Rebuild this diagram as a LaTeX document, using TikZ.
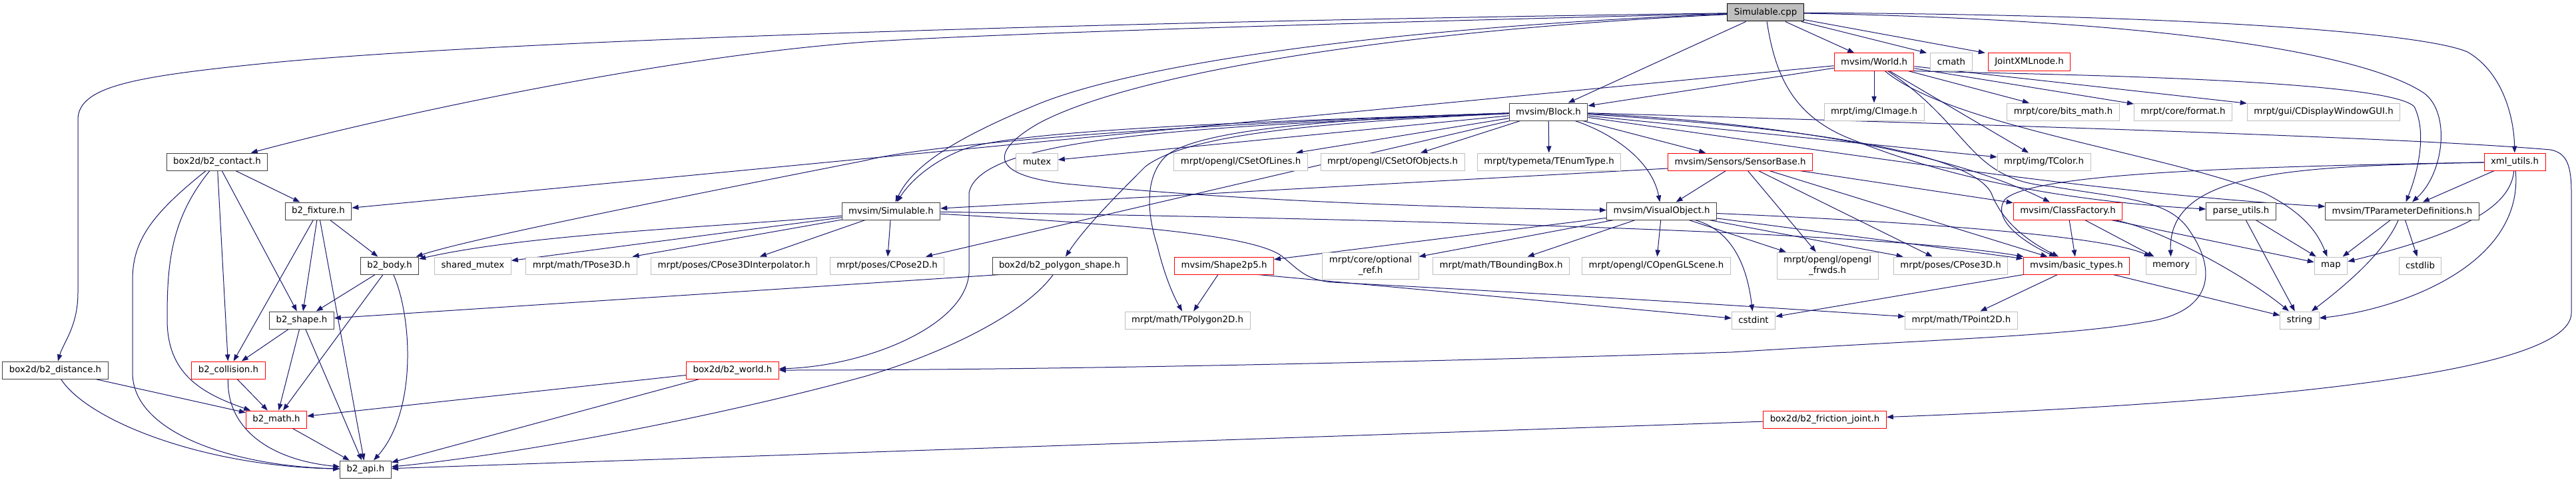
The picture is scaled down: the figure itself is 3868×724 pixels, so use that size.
\documentclass[tikz,border=0pt]{standalone}
\usepackage{fontspec}
\setmainfont{DejaVu Sans}
\usetikzlibrary{arrows.meta}
\definecolor{edgec}{HTML}{191970}
\definecolor{grayb}{HTML}{BFBFBF}
\definecolor{blackb}{HTML}{404040}
\pgfdeclarelayer{edgelayer}
\pgfsetlayers{edgelayer,main}
\begin{document}
\begin{tikzpicture}[x=0.75pt,y=-0.75pt,
  nd/.style={draw, line width=0.75pt, inner xsep=7.5pt, inner ysep=0pt, minimum height=19.5pt, font=\fontsize{10}{11.5}\selectfont, fill=white, align=center, text=black},
  bn/.style={nd, draw=blackb},
  rn/.style={nd, draw=red},
  gn/.style={nd, draw=grayb},
  e/.style={draw=edgec, line width=0.75pt, -{Triangle[length=7.5pt,width=5.5pt]}}]
\useasboundingbox (0,0) rectangle (3868,724);
% rank 0-2
\node[nd, draw=black, fill=grayb] (cpp) at (2651,19) {Simulable.cpp};
\node[rn] (world) at (2814,93) {mvsim/World.h};
\node[gn] (cmath) at (2930,93) {cmath};
\node[rn] (joint) at (3047,93) {JointXMLnode.h};
\node[bn] (block) at (2325,168) {mvsim/Block.h};
\node[gn] (cimage) at (2814,168) {mrpt/img/CImage.h};
\node[gn] (bitsmath) at (3098,168) {mrpt/core/bits\_math.h};
\node[gn] (format) at (3278,168) {mrpt/core/format.h};
\node[gn] (cdisp) at (3489,168) {mrpt/gui/CDisplayWindowGUI.h};
% rank 3
\node[bn] (contact) at (326,243) {box2d/b2\_contact.h};
\node[gn] (mutex) at (1557,243) {mutex};
\node[gn] (cslines) at (1863,243) {mrpt/opengl/CSetOfLines.h};
\node[gn] (csobjs) at (2091,243) {mrpt/opengl/CSetOfObjects.h};
\node[gn] (tenum) at (2326,243) {mrpt/typemeta/TEnumType.h};
\node[rn] (sensor) at (2613,243) {mvsim/Sensors/SensorBase.h};
\node[gn] (tcolor) at (3069,243) {mrpt/img/TColor.h};
\node[rn] (xmlu) at (3776,243) {xml\_utils.h};
% rank 4
\node[bn] (fixture) at (478,317) {b2\_fixture.h};
\node[bn] (simh) at (1338,317) {mvsim/Simulable.h};
\node[bn] (visobj) at (2495,317) {mvsim/VisualObject.h};
\node[rn] (classf) at (3105,317) {mvsim/ClassFactory.h};
\node[bn] (parseu) at (3365,317) {parse\_utils.h};
\node[bn] (tparam) at (3607,317) {mvsim/TParameterDefinitions.h};
% rank 5
\node[bn] (body) at (585,399) {b2\_body.h};
\node[gn] (shmutex) at (710,399) {shared\_mutex};
\node[gn] (tpose3d) at (873,399) {mrpt/math/TPose3D.h};
\node[gn] (interp) at (1102,399) {mrpt/poses/CPose3DInterpolator.h};
\node[gn] (cpose2d) at (1332,399) {mrpt/poses/CPose2D.h};
\node[bn] (polyshape) at (1591,399) {box2d/b2\_polygon\_shape.h};
\node[rn] (shape2p5) at (1838,399) {mvsim/Shape2p5.h};
\node[gn, minimum height=30pt] (optref) at (2058,399) {mrpt/core/optional\\\_ref.h};
\node[gn] (bbox) at (2254,399) {mrpt/math/TBoundingBox.h};
\node[gn] (glscene) at (2487,399) {mrpt/opengl/COpenGLScene.h};
\node[gn, minimum height=30pt] (frwds) at (2744,399) {mrpt/opengl/opengl\\\_frwds.h};
\node[gn] (cpose3d) at (2929,399) {mrpt/poses/CPose3D.h};
\node[rn] (basic) at (3118,399) {mvsim/basic\_types.h};
\node[gn] (memory) at (3260,399) {memory};
\node[gn] (map) at (3500,399) {map};
\node[gn] (cstdlib) at (3634,399) {cstdlib};
% rank 6
\node[bn] (shape) at (453,481) {b2\_shape.h};
\node[gn] (tpoly) at (1783,481) {mrpt/math/TPolygon2D.h};
\node[gn] (cstdint) at (2633,481) {cstdint};
\node[gn] (tpoint2d) at (2945,481) {mrpt/math/TPoint2D.h};
\node[gn] (string) at (3453,481) {string};
% rank 7-9
\node[bn] (distance) at (83,556) {box2d/b2\_distance.h};
\node[rn] (collision) at (343,556) {b2\_collision.h};
\node[rn] (b2world) at (1100,556) {box2d/b2\_world.h};
\node[rn] (math) at (415,630) {b2\_math.h};
\node[rn] (friction) at (2740,630) {box2d/b2\_friction\_joint.h};
\node[bn] (api) at (549,705) {b2\_api.h};

\begin{pgfonlayer}{edgelayer}
\fill[white] (0,0) rectangle (3868,724);
% Simulable.cpp
\draw[e] (cpp) .. controls (1500,35) and (700,65) .. (400,95) .. controls (200,115) and (117,130) .. (117,180) -- (117,440) .. controls (117,490) and (95,515) .. (distance);
\draw[e] (cpp) .. controls (2000,35) and (1500,50) .. (1300,63) .. controls (1000,85) and (600,170) .. (contact);
\draw[e] (cpp) .. controls (2100,40) and (1700,95) .. (1550,160) .. controls (1430,210) and (1370,250) .. (simh);
\draw[e] (cpp) .. controls (2100,45) and (1700,110) .. (1560,185) .. controls (1490,225) and (1480,262) .. (1600,276) .. controls (1900,305) and (2200,312) .. (visobj);
\draw[e] (cpp) -- (block);
\draw[e] (cpp) -- (world);
\draw[e] (cpp) -- ([xshift=-4pt]cmath.north west);
\draw[e] (cpp) -- ([xshift=-3pt]joint.north west);
\draw[e] (cpp) .. controls (3300,22) and (3640,50) .. (3705,78) .. controls (3760,110) and (3775,180) .. (xmlu);
\draw[e] (cpp) .. controls (3250,30) and (3550,80) .. (3640,140) .. controls (3680,170) and (3670,260) .. (tparam);
\draw[e] (cpp) .. controls (2665,110) and (2690,170) .. (2770,205) .. controls (2950,280) and (3150,305) .. (parseu);
% World.h
\draw[e] (world) -- (block);
\draw[e] (world) -- (fixture);
\draw[e] (world) -- (cimage);
\draw[e] (world) -- (bitsmath);
\draw[e] (world) -- (format);
\draw[e] (world) -- (cdisp);
\draw[e] (world) -- (tcolor);
\draw[e] ([xshift=-3pt]world.south east) .. controls (3000,111) and (3580,116) .. (3625,160) .. controls (3645,200) and (3630,260) .. (tparam);
\draw[e] (world) .. controls (2930,190) and (3250,230) .. (3400,290) .. controls (3460,320) and (3480,350) .. (map);
\draw[e] (world) .. controls (2960,190) and (2955,270) .. (3080,280) .. controls (3200,300) and (3260,300) .. (3290,350) .. controls (3330,410) and (3320,470) .. (3220,484) .. controls (3100,505) and (2900,510) .. (2600,529) .. controls (2000,548) and (1500,556) .. (b2world);
% Block.h
\draw[e] (block) -- (cslines);
\draw[e] (block) -- (csobjs);
\draw[e] (block) -- (tenum);
\draw[e] (block) -- (sensor);
\draw[e] (block) .. controls (2420,200) and (2480,240) .. (visobj);
\draw[e] (block) -- (mutex);
\draw[e] (block) .. controls (1900,182) and (1520,195) .. (1445,225) .. controls (1395,245) and (1365,275) .. (simh);
\draw[e] (block) .. controls (1800,185) and (1400,215) .. (1300,241) .. controls (1000,300) and (700,360) .. (body);
\draw[e] (block) .. controls (1800,190) and (1470,205) .. (1455,290) -- (1455,410) .. controls (1450,490) and (1300,550) .. (b2world);
\draw[e] (block) .. controls (1950,185) and (1780,205) .. (1720,250) .. controls (1680,290) and (1630,340) .. (polyshape);
\draw[e] (block) .. controls (1950,180) and (1790,200) .. (1750,235) .. controls (1715,270) and (1725,330) .. (1738,370) .. controls (1750,420) and (1765,450) .. (tpoly);
\draw[e] (block) -- (cpose2d);
\draw[e] (block) -- (tcolor);
\draw[e] (block) .. controls (2600,180) and (2900,215) .. (classf);
\draw[e] (block) .. controls (2600,185) and (2950,215) .. (2990,290) .. controls (3005,330) and (3040,360) .. (basic);
\draw[e] (block) .. controls (2800,235) and (3150,290) .. (tparam);
\draw[e] (block) .. controls (2900,185) and (3600,205) .. (3830,225) .. controls (3855,230) and (3861,250) .. (3861,290) -- (3861,470) .. controls (3861,560) and (3400,605) .. (friction);
% SensorBase.h
\draw[e] (sensor) -- (visobj);
\draw[e] ([yshift=-7.5pt]sensor.west) -- ([yshift=3pt]simh.east);
\draw[e] (sensor) -- (classf);
\draw[e] (sensor) -- (frwds);
\draw[e] (sensor) -- (cpose3d);
\draw[e] (sensor) -- (basic);
% Simulable.h
\draw[e] (simh) .. controls (1100,340) and (800,350) .. (body);
\draw[e] (simh) -- (shmutex);
\draw[e] (simh) -- (tpose3d);
\draw[e] (simh) -- (interp);
\draw[e] (simh) -- (cpose2d);
\draw[e] (simh) .. controls (2000,328) and (2800,345) .. (basic);
\draw[e] (simh) .. controls (1650,335) and (1880,350) .. (1925,385) .. controls (1950,405) and (1960,420) .. (2000,424) .. controls (2400,445) and (2700,465) .. (tpoint2d);
% VisualObject.h
\draw[e] (visobj) -- (shape2p5);
\draw[e] (visobj) -- (optref);
\draw[e] (visobj) -- (bbox);
\draw[e] (visobj) -- (glscene);
\draw[e] (visobj) -- (frwds);
\draw[e] (visobj) -- (cpose3d);
\draw[e] (visobj) -- (basic);
\draw[e] (visobj) .. controls (2800,330) and (3150,350) .. (memory);
\draw[e] (visobj) .. controls (2580,340) and (2620,370) .. (cstdint);
% Shape2p5.h
\draw[e] (shape2p5) -- (tpoly);
\draw[e] ([xshift=-18pt]shape2p5.south east) -- (cstdint);
% ClassFactory.h
\draw[e] (classf) -- (basic);
\draw[e] (classf) -- (memory);
\draw[e] (classf) .. controls (3250,345) and (3380,420) .. (string);
\draw[e] (classf) -- (map);
% basic_types.h
\draw[e] (basic) -- (cstdint);
\draw[e] (basic) -- (tpoint2d);
\draw[e] (basic) -- (string);
% xml_utils.h
\draw[e] (xmlu) -- (tparam);
\draw[e] (xmlu) .. controls (3770,310) and (3700,350) .. (map);
\draw[e] (xmlu) .. controls (3790,400) and (3600,465) .. (string);
\draw[e] (xmlu) .. controls (3450,250) and (3255,255) .. (memory);
\draw[e] (xmlu) .. controls (3400,250) and (3050,258) .. (3010,300) .. controls (2990,330) and (3040,365) .. (basic);
% parse_utils.h
\draw[e] (parseu) -- (map);
\draw[e] (parseu) -- (string);
% TParameterDefinitions.h
\draw[e] (tparam) -- (map);
\draw[e] (tparam) .. controls (3580,380) and (3520,430) .. (string);
\draw[e] (tparam) -- (cstdlib);
% box2d
\draw[e] (contact) -- (fixture);
\draw[e] (contact) -- (shape);
\draw[e] (contact) -- (collision);
\draw[e] (contact) .. controls (255,330) and (251,400) .. (251,480) .. controls (251,560) and (300,590) .. (math);
\draw[e] (contact) .. controls (230,320) and (199,360) .. (199,420) -- (199,560) .. controls (199,650) and (350,700) .. (api);
\draw[e] (fixture) -- (collision);
\draw[e] (fixture) -- (shape);
\draw[e] (fixture) -- (api);
\draw[e] (fixture) -- (body);
\draw[e] (body) -- (shape);
\draw[e] (body) -- (math);
\draw[e] (body) .. controls (620,480) and (625,620) .. (api);
\draw[e] (shape) -- (collision);
\draw[e] (shape) -- (math);
\draw[e] (shape) -- (api);
\draw[e] (collision) -- (math);
\draw[e] (collision) .. controls (340,640) and (400,690) .. (api);
\draw[e] (math) -- (api);
\draw[e] (distance) -- (math);
\draw[e] (distance) .. controls (130,630) and (300,700) .. (api);
\draw[e] (b2world) -- (math);
\draw[e] (b2world) -- (api);
\draw[e] ([xshift=9pt]polyshape.south west) -- (shape);
\draw[e] (polyshape) .. controls (1540,470) and (1420,530) .. (1300,565) .. controls (1100,620) and (800,680) .. (api);
\draw[e] (friction) -- (api);
\end{pgfonlayer}
\end{tikzpicture}
\end{document}
